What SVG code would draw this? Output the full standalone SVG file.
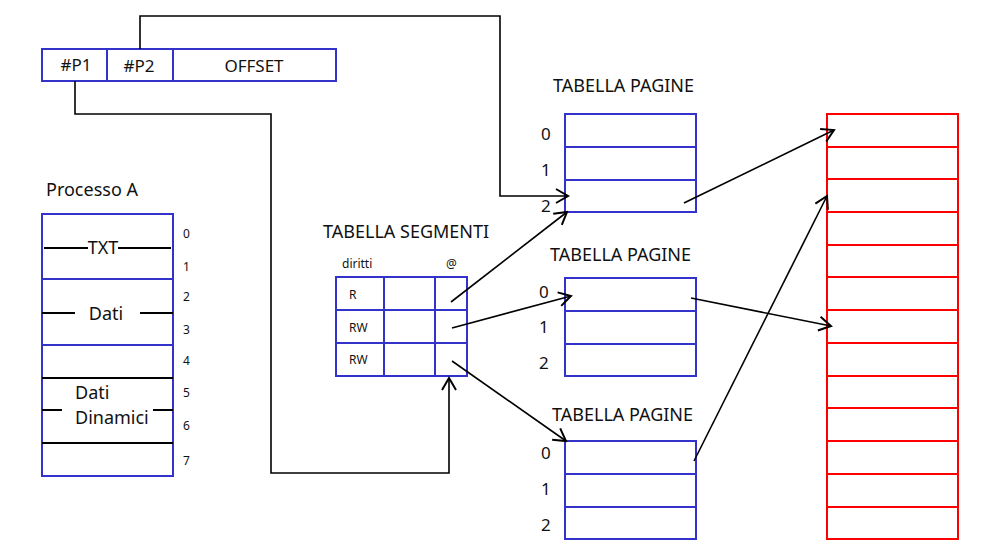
<svg xmlns="http://www.w3.org/2000/svg" width="994" height="555" viewBox="0 0 994 555">
<style>
.b{fill:none;stroke:#3333cc;stroke-width:2}
.r{fill:none;stroke:#ff0000;stroke-width:2}
.k{fill:none;stroke:#000;stroke-width:2}
.c{fill:none;stroke:#000;stroke-width:1.6}
text{font-family:"Noto Sans","Open Sans",sans-serif;fill:#111}
.t{font-size:18px}
.a{font-size:17px}
.s{font-size:12px}
.m{font-size:17px}
</style>
<defs>
<marker id="a" viewBox="0 0 20 20" refX="18" refY="10" markerWidth="20" markerHeight="20" markerUnits="userSpaceOnUse" orient="auto">
<path d="M6,3 L18,10 L6,17" fill="none" stroke="#000" stroke-width="2"/>
</marker>
</defs>
<g id="indirizzo">
<rect class="b" x="42" y="49" width="294" height="32"/>
<line class="b" x1="107" y1="49" x2="107" y2="81"/>
<line class="b" x1="173" y1="49" x2="173" y2="81"/>
<text class="a" x="76" y="71" text-anchor="middle">#P1</text>
<text class="a" x="139" y="72" text-anchor="middle">#P2</text>
<text class="a" x="254" y="72" text-anchor="middle">OFFSET</text>
</g>
<g id="processoA">
<text class="t" x="46" y="196">Processo A</text>
<rect class="b" x="42" y="214" width="131" height="262"/>
<line class="b" x1="42" y1="279" x2="173" y2="279"/>
<line class="b" x1="42" y1="345" x2="173" y2="345"/>
<line class="k" x1="42" y1="378" x2="173" y2="378"/>
<line class="k" x1="42" y1="443" x2="173" y2="443"/>
<line class="k" x1="44" y1="248" x2="88" y2="248"/>
<line class="k" x1="118" y1="248" x2="171" y2="248"/>
<text class="t" x="103" y="254" text-anchor="middle">TXT</text>
<line class="k" x1="42" y1="313" x2="75" y2="313"/>
<line class="k" x1="140" y1="313" x2="173" y2="313"/>
<text class="t" x="106" y="320" text-anchor="middle">Dati</text>
<line class="k" x1="42" y1="410" x2="62" y2="410"/>
<line class="k" x1="153" y1="410" x2="173" y2="410"/>
<text class="t" x="75" y="399">Dati</text>
<text class="t" x="75" y="424">Dinamici</text>
<text class="s" x="183" y="238">0</text>
<text class="s" x="183" y="271">1</text>
<text class="s" x="183" y="301">2</text>
<text class="s" x="183" y="334">3</text>
<text class="s" x="183" y="365">4</text>
<text class="s" x="183" y="397">5</text>
<text class="s" x="183" y="430">6</text>
<text class="s" x="183" y="465">7</text>
</g>
<g id="tabellaSegmenti">
<text class="t" x="323" y="238">TABELLA SEGMENTI</text>
<text class="s" x="342" y="268">diritti</text>
<text class="s" x="446" y="268">@</text>
<rect class="b" x="336" y="277" width="131" height="99"/>
<line class="b" x1="336" y1="310" x2="467" y2="310"/>
<line class="b" x1="336" y1="343" x2="467" y2="343"/>
<line class="b" x1="384" y1="277" x2="384" y2="376"/>
<line class="b" x1="435" y1="277" x2="435" y2="376"/>
<text class="s" x="349" y="299">R</text>
<text class="s" x="349" y="332">RW</text>
<text class="s" x="349" y="364">RW</text>
</g>
<g id="tabellaPagine1">
<text class="t" x="553" y="92">TABELLA PAGINE</text>
<rect class="b" x="565" y="114" width="131" height="98"/>
<line class="b" x1="565" y1="147" x2="696" y2="147"/>
<line class="b" x1="565" y1="180" x2="696" y2="180"/>
<text class="m" x="541" y="140">0</text>
<text class="m" x="541" y="176">1</text>
<text class="m" x="541" y="212">2</text>
</g>
<g id="tabellaPagine2">
<text class="t" x="550" y="261">TABELLA PAGINE</text>
<rect class="b" x="565" y="278" width="131" height="98"/>
<line class="b" x1="565" y1="311" x2="696" y2="311"/>
<line class="b" x1="565" y1="344" x2="696" y2="344"/>
<text class="m" x="539" y="298">0</text>
<text class="m" x="539" y="333">1</text>
<text class="m" x="539" y="369">2</text>
</g>
<g id="tabellaPagine3">
<text class="t" x="552" y="421">TABELLA PAGINE</text>
<rect class="b" x="565" y="441" width="131" height="98"/>
<line class="b" x1="565" y1="474" x2="696" y2="474"/>
<line class="b" x1="565" y1="507" x2="696" y2="507"/>
<text class="m" x="541" y="459">0</text>
<text class="m" x="541" y="495">1</text>
<text class="m" x="541" y="531">2</text>
</g>
<g id="memoria">
<rect class="r" x="827" y="114" width="131" height="425"/>
<path class="r" d="M827,147H958M827,179H958M827,212H958M827,245H958M827,277H958M827,310H958M827,343H958M827,376H958M827,408H958M827,441H958M827,474H958M827,507H958"/>
</g>
<g id="connettori">
<polyline class="c" points="140,49 140,16 500,16 500,196 568,196" marker-end="url(#a)"/>
<polyline class="c" points="75,81 75,114 271,114 271,473 449,473 449,378" marker-end="url(#a)"/>
<line class="c" x1="451" y1="302" x2="567" y2="212" marker-end="url(#a)"/>
<line class="c" x1="452" y1="328" x2="571" y2="296" marker-end="url(#a)"/>
<line class="c" x1="452" y1="361" x2="566" y2="441" marker-end="url(#a)"/>
<line class="c" x1="684" y1="203" x2="834" y2="130" marker-end="url(#a)"/>
<line class="c" x1="691" y1="298" x2="831" y2="326" marker-end="url(#a)"/>
<line class="c" x1="694" y1="461" x2="827" y2="196" marker-end="url(#a)"/>
</g>
</svg>
